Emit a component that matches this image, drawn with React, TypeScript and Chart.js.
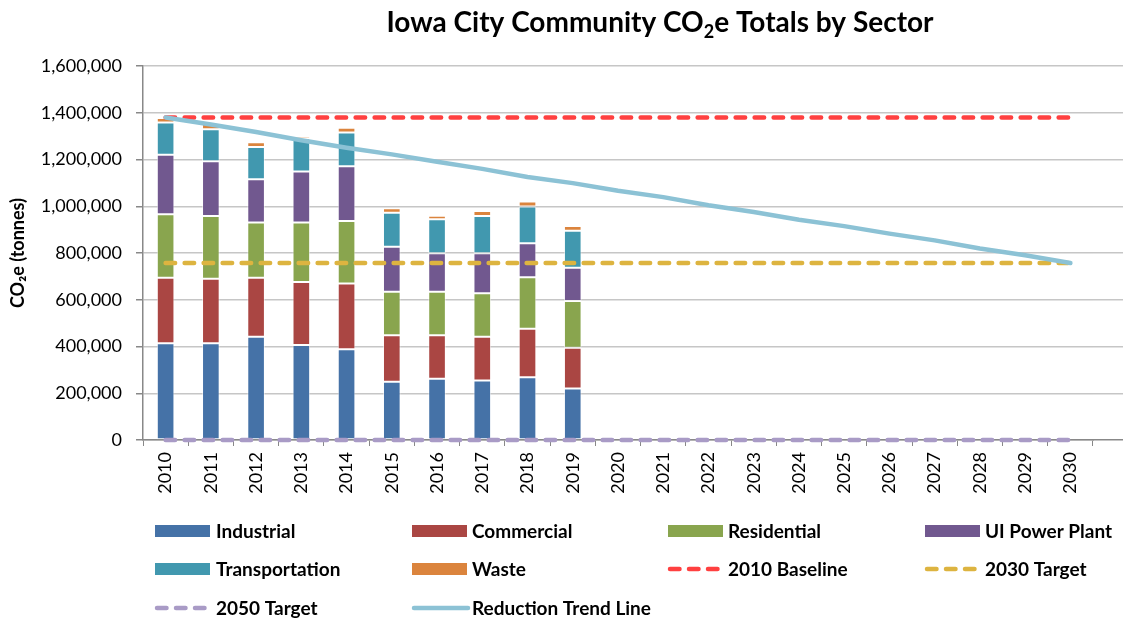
import React, { useEffect, useRef } from 'react';
import { Chart, registerables } from 'chart.js';

Chart.register(...registerables);

const years = ['2010', '2011', '2012', '2013', '2014', '2015', '2016', '2017', '2018', '2019', '2020', '2021', '2022', '2023', '2024', '2025', '2026', '2027', '2028', '2029', '2030'];

const industrial = [414000, 414000, 442000, 406000, 388000, 249000, 262000, 255000, 268000, 220000];
const commercial = [280000, 276000, 252000, 270000, 281000, 199000, 186000, 187000, 208000, 175000];
const residential = [272000, 268000, 236000, 254000, 268000, 186000, 186000, 186000, 220000, 200000];
const uiPowerPlant = [254000, 234000, 185000, 219000, 234000, 193000, 165000, 171000, 146000, 142000];
const transportation = [138000, 137000, 139000, 142000, 144000, 145000, 145000, 159000, 157000, 158000];
const waste = [20000, 26000, 20000, 10000, 21000, 19000, 15000, 22000, 21000, 21000];

const baseline2010 = [1380000, 1380000, 1380000, 1380000, 1380000, 1380000, 1380000, 1380000, 1380000, 1380000, 1380000, 1380000, 1380000, 1380000, 1380000, 1380000, 1380000, 1380000, 1380000, 1380000, 1380000];
const target2030 = [757000, 757000, 757000, 757000, 757000, 757000, 757000, 757000, 757000, 757000, 757000, 757000, 757000, 757000, 757000, 757000, 757000, 757000, 757000, 757000, 757000];
const target2050 = [0, 0, 0, 0, 0, 0, 0, 0, 0, 0, 0, 0, 0, 0, 0, 0, 0, 0, 0, 0, 0];
const trendLine = [1380000, 1350000, 1318000, 1282000, 1250000, 1222000, 1190000, 1160000, 1125000, 1099000, 1066000, 1039000, 1004000, 975000, 942000, 915000, 883000, 854000, 819000, 790000, 757000];

const yTickValues = [0, 200000, 400000, 600000, 800000, 1000000, 1200000, 1400000, 1600000];

const FONT = 'Lato, "Open Sans", sans-serif';
const GRID = '#c6c6c6';
const AXIS = '#888888';

function align(pixel: number, width: number) {
  const half = width / 2;
  return Math.round(pixel - half) + half;
}

const extendGrid = {
  id: 'extendGrid',
  beforeDatasetsDraw(chart: any) {
    const { ctx, chartArea, scales } = chart;
    const y = scales.y;
    ctx.save();
    ctx.lineWidth = 1.5;
    yTickValues.forEach((v) => {
      const py = align(y.getPixelForValue(v), 1.5);
      ctx.strokeStyle = v === 0 ? AXIS : GRID;
      ctx.beginPath();
      ctx.moveTo(chartArea.right, py);
      ctx.lineTo(chart.width, py);
      ctx.stroke();
    });
    ctx.restore();
  },
};

const legendCols = [155, 412, 668, 925];
const legendTextCols = [216, 472, 728, 985];
const legendRows = [531, 569, 608];

const titleAndLegend = {
  id: 'titleAndLegend',
  afterDraw(chart: any) {
    const ctx = chart.ctx as CanvasRenderingContext2D;
    ctx.save();
    // Title with subscript
    const big = `bold 28px ${FONT}`;
    const small = `bold 18px ${FONT}`;
    const parts: [string, string, number][] = [
      ['Iowa City Community CO', big, 0],
      ['2', small, 6],
      ['e Totals by Sector', big, 0],
    ];
    let total = 0;
    parts.forEach(([t, f]) => {
      ctx.font = f;
      total += ctx.measureText(t).width;
    });
    let x = 660 - total / 2;
    const baseY = 32;
    ctx.fillStyle = '#000';
    ctx.textBaseline = 'alphabetic';
    ctx.textAlign = 'left';
    parts.forEach(([t, f, dy]) => {
      ctx.font = f;
      ctx.fillText(t, x, baseY + dy);
      x += ctx.measureText(t).width;
    });

    // Legend in a 4-column grid
    ctx.font = `bold 19px ${FONT}`;
    ctx.textBaseline = 'middle';
    chart.data.datasets.forEach((ds: any, i: number) => {
      const col = i % 4;
      const row = Math.floor(i / 4);
      const sx = legendCols[col];
      const cy = legendRows[row];
      if (ds.type === 'line') {
        ctx.save();
        ctx.strokeStyle = ds.borderColor;
        ctx.lineWidth = 4.5;
        ctx.lineCap = 'round';
        ctx.setLineDash(ds.borderDash ? ds.borderDash : []);
        ctx.beginPath();
        ctx.moveTo(sx + 2, cy);
        ctx.lineTo(sx + (ds.borderDash ? 52 : 56), cy);
        ctx.stroke();
        ctx.restore();
      } else {
        ctx.fillStyle = ds.backgroundColor;
        ctx.fillRect(sx, cy - 6, 55, 12);
      }
      ctx.fillStyle = '#000';
      ctx.fillText(ds.label, legendTextCols[col], cy + 1);
    });
    ctx.restore();
  },
};

export default function App() {
  const ref = useRef<HTMLCanvasElement>(null);

  useEffect(() => {
    const barCommon = {
      type: 'bar' as const,
      stack: 'sectors',
      order: 10,
      barPercentage: 0.39,
      categoryPercentage: 1,
      borderWidth: 1,
      borderColor: 'rgba(255,255,255,0.55)',
      borderSkipped: false as const,
    };
    const lineCommon = {
      type: 'line' as const,
      pointRadius: 0,
      borderWidth: 4.5,
      borderCapStyle: 'round' as const,
      borderJoinStyle: 'round' as const,
      fill: false,
      tension: 0,
      clip: false,
    };
    const chart = new Chart(ref.current as HTMLCanvasElement, {
      type: 'bar',
      data: {
        labels: years,
        datasets: [
          { ...barCommon, label: 'Industrial', data: industrial, backgroundColor: '#4572A7' },
          { ...barCommon, label: 'Commercial', data: commercial, backgroundColor: '#AA4643' },
          { ...barCommon, label: 'Residential', data: residential, backgroundColor: '#89A54E' },
          { ...barCommon, label: 'UI Power Plant', data: uiPowerPlant, backgroundColor: '#71588F' },
          { ...barCommon, label: 'Transportation', data: transportation, backgroundColor: '#4198AF' },
          { ...barCommon, label: 'Waste', data: waste, backgroundColor: '#DB843D' },
          { ...lineCommon, label: '2010 Baseline', data: baseline2010, borderColor: '#FF4040', backgroundColor: '#FF4040', borderDash: [9.5, 9.5], stack: 'l1', order: 3 },
          { ...lineCommon, label: '2030 Target', data: target2030, borderColor: '#DDB440', backgroundColor: '#DDB440', borderDash: [9.5, 9.5], stack: 'l2', order: 2 },
          { ...lineCommon, label: '2050 Target', data: target2050, borderColor: '#A99BC6', backgroundColor: '#A99BC6', borderDash: [9.5, 9.5], stack: 'l3', order: 1 },
          { ...lineCommon, label: 'Reduction Trend Line', data: trendLine, borderColor: '#8CC2D5', backgroundColor: '#8CC2D5', stack: 'l4', order: 0 },
        ] as any,
      },
      options: {
        animation: false,
        responsive: false,
        devicePixelRatio: 1,
        layout: { padding: { top: 66, right: 30, bottom: 0, left: 0 } },
        plugins: {
          legend: { display: false },
          tooltip: { enabled: false },
          title: { display: false },
        },
        scales: {
          x: {
            stacked: true,
            offset: true,
            grid: {
              display: true,
              drawOnChartArea: false,
              drawTicks: true,
              tickLength: 6,
              offset: true,
              color: AXIS,
              lineWidth: 1,
            },
            border: { display: true, color: AXIS, width: 1.5 },
            ticks: {
              autoSkip: false,
              maxRotation: 90,
              minRotation: 90,
              padding: 6,
              color: '#000',
              font: { family: FONT, size: 18 },
            },
            afterFit: (s: any) => {
              s.height = 179;
            },
          } as any,
          y: {
            stacked: true,
            min: 0,
            max: 1600000,
            ticks: {
              stepSize: 200000,
              padding: 14,
              color: '#000',
              font: { family: FONT, size: 18 },
              callback: (v: any) => Number(v).toLocaleString('en-US'),
            },
            grid: {
              color: GRID,
              lineWidth: 1.5,
              tickLength: 7,
              tickColor: AXIS,
              drawTicks: true,
            },
            border: { display: true, color: AXIS, width: 1.5 },
            title: {
              display: true,
              text: 'CO₂e (tonnes)',
              color: '#000',
              font: { family: FONT, size: 18, weight: 'bold' },
              padding: { top: 7, bottom: 0 },
            },
            afterFit: (s: any) => {
              s.width = 143;
            },
          } as any,
        },
      },
      plugins: [extendGrid, titleAndLegend],
    });
    return () => chart.destroy();
  }, []);

  return (
    <div style={{ position: 'fixed', left: 0, top: 0, width: 1123, height: 619, background: '#fff', overflow: 'hidden' }}>
      <canvas ref={ref} width={1123} height={619} style={{ display: 'block', width: 1123, height: 619 }} />
    </div>
  );
}
